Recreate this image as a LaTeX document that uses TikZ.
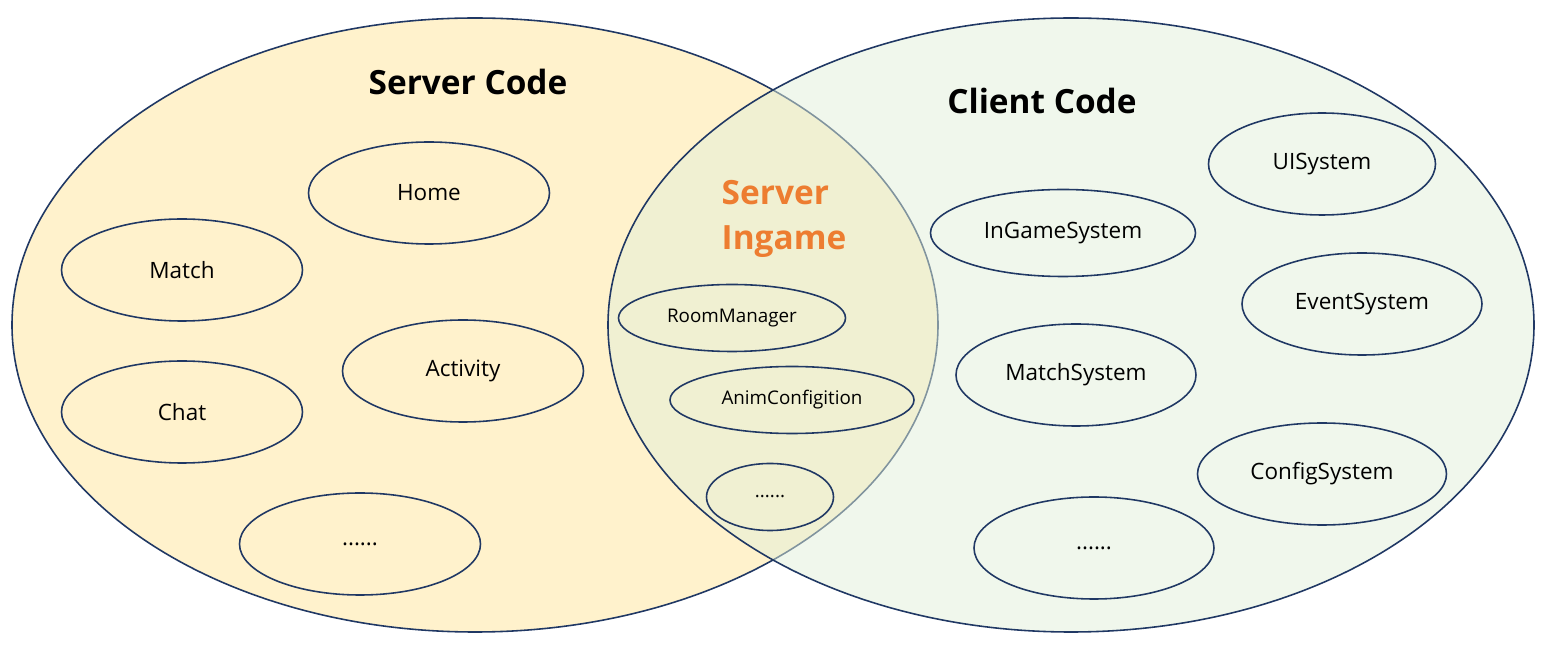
\documentclass[tikz,border=0pt]{standalone}
\usepackage{fontspec}
\setmainfont{Open Sans}
\usetikzlibrary{shapes.geometric}
\definecolor{srvfill}{HTML}{FFF2CC}
\definecolor{clifill}{HTML}{E2F0D9}
\definecolor{edge}{HTML}{203864}
\definecolor{ingame}{HTML}{ED7D31}

\begin{document}
\begin{tikzpicture}[line width=0.9pt,
    area/.style={ellipse, draw=edge, inner sep=0pt, minimum width=18.52cm, minimum height=12.28cm},
    module/.style={ellipse, draw=edge, inner sep=0pt, minimum width=4.82cm, minimum height=2.04cm, font=\fontsize{12.8}{15}\selectfont},
    small/.style={module, minimum height=1.34cm, font=\fontsize{10.7}{12}\selectfont},
    title/.style={font=\fontsize{19}{25.5}\selectfont\bfseries}]
    \useasboundingbox (0,0) rectangle (30.96,12.9);

    \node[area, fill=srvfill] (server) at (9.5,6.4) {};
    \node[area, fill=clifill, fill opacity=0.5] (client) at (21.42,6.4) {};

    \node[title] (srvtitle) at (9.36,11.26) {Server Code};
    \node[title] (clititle) at (20.84,10.88) {Client Code};
    \node[title, text=ingame, align=left] (ingtitle) at (15.68,8.52) {Server\\Ingame};

    \node[module] (home) at (8.58,9.04) {Home};
    \node[module] (match) at (3.64,7.50) {Match};
    \node[module] (activity) at (9.26,5.48) {Activity};
    \node[module] (chat) at (3.64,4.66) {Chat};
    \node[module] (srvmore) at (7.20,2.02) {......};

    \node[small, minimum width=4.54cm] (room) at (14.64,6.54) {RoomManager};
    \node[small, minimum width=4.88cm] (anim) at (15.84,4.90) {AnimConfigition};
    \node[small, minimum width=2.54cm] (ingmore) at (15.40,2.96) {......};

    \node[module, minimum width=4.54cm] (uisys) at (26.44,9.62) {UISystem};
    \node[module, minimum width=5.30cm, minimum height=1.74cm] (ingamesys) at (21.26,8.24) {InGameSystem};
    \node[module, minimum width=4.80cm] (eventsys) at (27.24,6.82) {EventSystem};
    \node[module, minimum width=4.80cm] (matchsys) at (21.52,5.40) {MatchSystem};
    \node[module, minimum width=4.98cm] (configsys) at (26.44,3.42) {ConfigSystem};
    \node[module, minimum width=4.80cm] (climore) at (21.88,1.94) {......};
\end{tikzpicture}
\end{document}
